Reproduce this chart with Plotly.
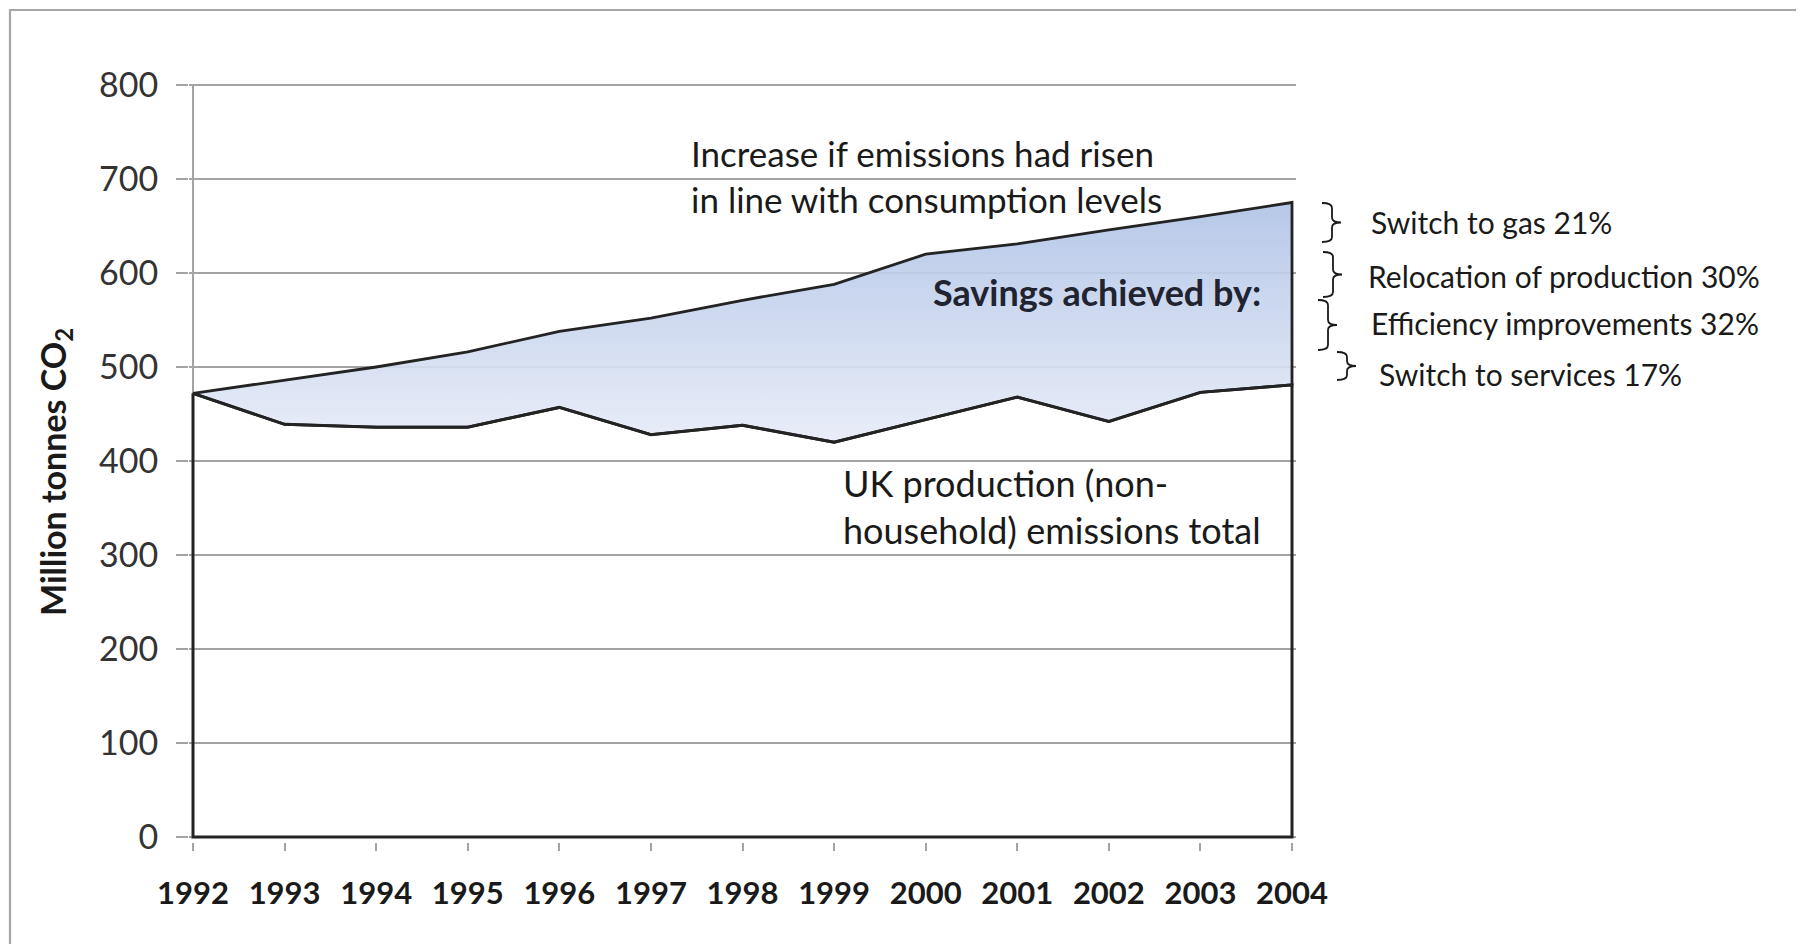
import plotly.graph_objects as go

# ---------------- data ----------------
years = [1992, 1993, 1994, 1995, 1996, 1997, 1998, 1999, 2000, 2001, 2002, 2003, 2004]
consumption_based = [472, 486, 500, 516, 538, 552, 571, 588, 620, 631, 646, 660, 675]
uk_production = [472, 439, 436, 436, 457, 428, 438, 420, 444, 468, 442, 473, 481]
y_ticks = [0, 100, 200, 300, 400, 500, 600, 700, 800]
year_labels = [str(y) for y in years]

savings_labels = ["Switch to gas 21%", "Relocation of production 30%",
                  "Efficiency improvements 32%", "Switch to services 17%"]

# ---------------- layout geometry (screen pixels; page body has an 8px offset) ----------------
OFF = 8
W, H = 1796, 936
L, R, T, B = 181, 508, 74, 102
PW, PH = W - L - R, H - T - B

# screen pixels of first/last year and of 0 / top tick
X_FIRST, X_LAST = 193, 1292
Y_ZERO, Y_TOP = 837, 85
kx = (X_LAST - X_FIRST) / (years[-1] - years[0])
ky = (Y_ZERO - Y_TOP) / (y_ticks[-1] - y_ticks[0])
x_range = [years[0] - (X_FIRST - OFF - L) / kx, years[-1] + (L + PW - (X_LAST - OFF)) / kx]
y_range = [y_ticks[0] - ((T + PH) - (Y_ZERO - OFF)) / ky, y_ticks[-1] + ((Y_TOP - OFF) - T) / ky]


def px(x):
    return (x - OFF - L) / PW


def py(y):
    return (T + PH - (y - OFF)) / PH


FONT = "Lato"
LINE = "#232323"
GRID = "#a3a3a3"

fig = go.Figure()

# band between production and consumption-based emissions
band_x = years + years[::-1]
band_y = consumption_based + uk_production[::-1]
fig.add_trace(go.Scatter(
    x=band_x, y=band_y, mode="lines", fill="toself",
    fillgradient=dict(type="vertical",
                      colorscale=[[0, "rgba(230,235,247,0.9)"], [1, "rgba(176,195,230,0.92)"]],
                      start=min(uk_production), stop=max(consumption_based)),
    line=dict(color=LINE, width=2.8), hoverinfo="skip", showlegend=False))

# production area outline
prod_x = years + [years[-1], years[0], years[0]]
prod_y = uk_production + [0, 0, uk_production[0]]
fig.add_trace(go.Scatter(
    x=prod_x, y=prod_y, mode="lines", fill="none",
    line=dict(color=LINE, width=3), hoverinfo="skip", showlegend=False))

shapes = []
# gray y axis line
shapes.append(dict(type="line", xref="x", yref="y", x0=years[0], x1=years[0], y0=0, y1=y_ticks[-1],
                   line=dict(color=GRID, width=2), layer="below"))
# outer border (left & top)
shapes.append(dict(type="path", xref="paper", yref="paper",
                   path=f"M {px(10)},{py(950)} L {px(10)},{py(10)} L {px(1810)},{py(10)}",
                   line=dict(color="#a6a6a6", width=2.2)))


def brace(xv, top, bot, hook=10, tick=9):
    mid = (top + bot) / 2
    r = 5
    p = (f"M {px(xv - hook)},{py(top)} Q {px(xv)},{py(top)} {px(xv)},{py(top + r)} "
         f"L {px(xv)},{py(mid - r)} Q {px(xv)},{py(mid)} {px(xv + tick)},{py(mid)} "
         f"Q {px(xv)},{py(mid)} {px(xv)},{py(mid + r)} "
         f"L {px(xv)},{py(bot - r)} Q {px(xv)},{py(bot)} {px(xv - hook)},{py(bot)}")
    return dict(type="path", xref="paper", yref="paper", path=p,
                line=dict(color="#1a1a1a", width=1.8))


brace_geom = [(1332, 203, 242), (1333, 252, 297), (1328, 300, 350), (1347, 352, 380)]
for xv, t0, b0 in brace_geom:
    shapes.append(brace(xv, t0, b0))

annotations = []


def txt(text, x, y, size, bold=False, anchor="left", color="#1a1a1a"):
    annotations.append(dict(text=text, xref="paper", yref="paper", x=px(x), y=py(y),
                            xanchor=anchor, yanchor="middle", showarrow=False,
                            font=dict(family=FONT, size=size, color=color,
                                      weight="bold" if bold else "normal")))


txt("Increase if emissions had risen", 689, 153, 35)
txt("in line with consumption levels", 689, 199, 35)
txt("Savings achieved by:", 1263, 292, 36, bold=True, anchor="right", color="#1f2430")
txt("UK production (non-", 841, 483, 36)
txt("household) emissions total", 841, 530, 36)

label_pos = [(1369, 222), (1366, 276), (1369, 323), (1377, 374)]
for lab, (xx, yy) in zip(savings_labels, label_pos):
    txt(lab, xx, yy, 30)

annotations.append(dict(text="Million tonnes CO<sub>2</sub>", xref="paper", yref="paper",
                        x=px(55), y=py(472), xanchor="center", yanchor="middle", textangle=-90,
                        showarrow=False, font=dict(family=FONT, size=34, color="#1a1a1a", weight="bold")))

fig.update_layout(
    width=W, height=H,
    margin=dict(l=L, r=R, t=T, b=B, pad=0),
    paper_bgcolor="white", plot_bgcolor="white",
    shapes=shapes, annotations=annotations,
    xaxis=dict(range=x_range, tickmode="array",
               tickvals=years, ticktext=year_labels, showgrid=False, zeroline=False,
               showline=False, ticks="outside", ticklen=8, tickcolor=GRID, tickwidth=1.5,
               ticklabelstandoff=16,
               tickfont=dict(family=FONT, size=31, color="#1a1a1a", weight="bold")),
    yaxis=dict(range=y_range, tickmode="array", tickvals=y_ticks,
               showgrid=True, gridcolor=GRID, gridwidth=1.6, zeroline=False, showline=False,
               ticks="outside", ticklen=12, tickcolor=GRID, tickwidth=1.6,
               ticklabelstandoff=11,
               tickfont=dict(family=FONT, size=34, color="#333333")),
)

fig.write_html("out.html")
